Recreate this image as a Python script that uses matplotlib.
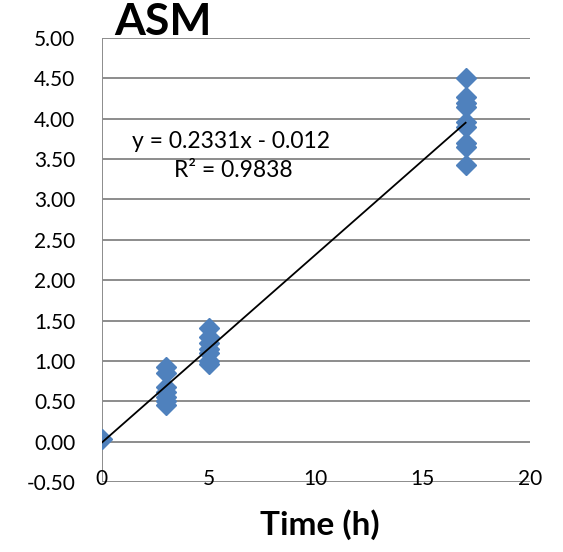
import numpy as np
import matplotlib
matplotlib.use("Agg")
import matplotlib.pyplot as plt

plt.rcParams["font.family"] = ["Lato", "DejaVu Sans"]

time_h = [0, 3, 3, 3, 3, 3, 3, 3, 5, 5, 5, 5, 5, 5, 5,
          17, 17, 17, 17, 17, 17, 17, 17, 17]
asm = [0.03, 0.93, 0.85, 0.68, 0.62, 0.55, 0.50, 0.45,
       1.41, 1.30, 1.22, 1.15, 1.10, 1.00, 0.96,
       4.51, 4.27, 4.20, 4.15, 3.96, 3.90, 3.70, 3.65, 3.43]

slope = 0.2331
intercept = -0.012
r_squared = 0.9838

x_ticks = [0, 5, 10, 15, 20]
y_ticks = [-0.5, 0, 0.5, 1, 1.5, 2, 2.5, 3, 3.5, 4, 4.5, 5]

W, H = 563, 552
fig = plt.figure(figsize=(W / 100, H / 100), dpi=100)
ax = fig.add_axes([0.181, 0.127, 0.760, 0.804])

grid_color = "#8c8c8c"
for yv in y_ticks:
    ax.axhline(yv, color=grid_color, lw=1.4, zorder=1)
ax.plot([0, 0], [-0.5, 5], color=grid_color, lw=1.4, zorder=1)

ax.plot(time_h, asm, linestyle="none", marker="D", markersize=10,
        color="#4f81bd", zorder=3)

fit_x = np.array([0, max(time_h)])
ax.plot(fit_x, slope * fit_x + intercept, color="black", lw=1.3, zorder=4)

fig.text(231 / W, 1 - 141 / H, f"y = {slope}x - {abs(intercept)}",
         fontsize=16.5, ha="center", va="center")
fig.text(233 / W, 1 - 171 / H, f"R\u00b2 = {r_squared}",
         fontsize=16.5, ha="center", va="center")

ax.set_xlim(0, 20)
ax.set_ylim(-0.5, 5)
ax.set_xticks(x_ticks)
ax.set_yticks(y_ticks)
ax.set_yticklabels([f"{v:.2f}" for v in y_ticks])
ax.tick_params(axis="y", length=0, pad=19, labelsize=15)
ax.tick_params(axis="x", length=0, pad=-9, labelsize=15)
for s in ax.spines.values():
    s.set_visible(False)

fig.text(163 / W, 1 - 22 / H, "ASM", fontsize=32, fontweight="bold",
         ha="center", va="center")
fig.text(320 / W, 1 - 525 / H, "Time (h)", fontsize=24, fontweight="bold",
         ha="center", va="center")

fig.savefig("out.png", dpi=100)
